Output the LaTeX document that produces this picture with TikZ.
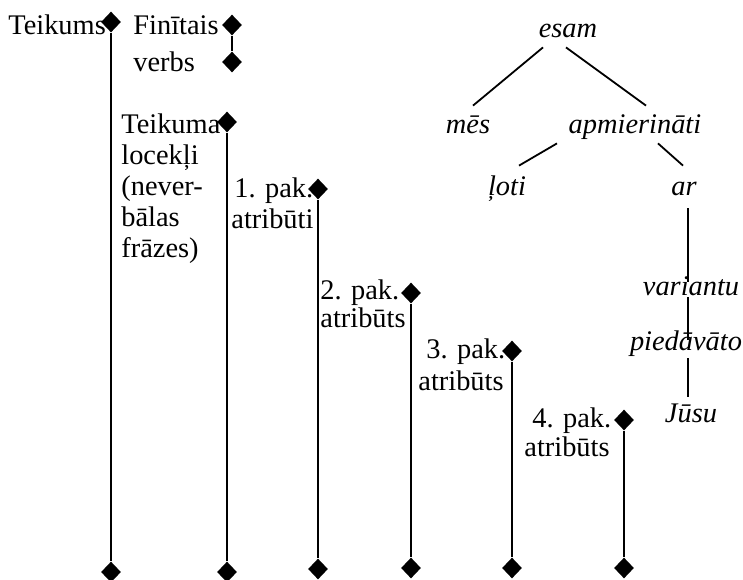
\documentclass[tikz,border=0pt]{standalone}
\usepackage{fontspec}
\setmainfont{Liberation Serif}
\usetikzlibrary{shapes.geometric,calc}
\begin{document}
\begin{tikzpicture}[x=0.5pt,y=-0.5pt,
 dia/.style={diamond,fill=black,draw=none,inner sep=0pt,minimum width=10pt,minimum height=10.5pt},
 lbl/.style={anchor=base west,inner sep=0pt,font=\fontsize{14.2}{16}\selectfont},
 wrd/.style={anchor=base,inner sep=0pt,text height=7pt,text depth=0pt,font=\fontsize{14.2}{16}\selectfont\itshape},
 stem/.style={line width=1.1pt},
 edge/.style={line width=0.9pt}]
\useasboundingbox (0,0) rectangle (743,579);

% diamonds
\node[dia] (t0) at (111,22) {};
\node[dia] (b0) at (111,572) {};
\node[dia] (f1) at (232,25) {};
\node[dia] (f2) at (232,62) {};
\node[dia] (t1) at (227,122) {};
\node[dia] (b1) at (227,572) {};
\node[dia] (t2) at (318,189) {};
\node[dia] (b2) at (318,569) {};
\node[dia] (t3) at (411,293) {};
\node[dia] (b3) at (411,568) {};
\node[dia] (t4) at (512,351) {};
\node[dia] (b4) at (512,568) {};
\node[dia] (t5) at (624,420) {};
\node[dia] (b5) at (624,568) {};

\draw[stem] (t0) -- (b0);
\draw[stem] (f1) -- (f2);
\draw[stem] (t1) -- (b1);
\draw[stem] (t2) -- (b2);
\draw[stem] (t3) -- (b3);
\draw[stem] (t4) -- (b4);
\draw[stem] (t5) -- (b5);

% labels
\node[lbl] (l0) at (8,34) {Teikums};
\node[lbl] (lf1) at (133,34) {Finītais};
\node[lbl] (lf2) at (133,71) {verbs};
\node[lbl] (la1) at (121,133) {Teikuma};
\node[lbl] (la2) at (121,164) {locekļi};
\node[lbl] (la3) at (121,195) {(never-};
\node[lbl] (la4) at (121,226) {bālas};
\node[lbl] (la5) at (121,257) {frāzes)};
\node[lbl] (lb1) at (234,197) {1. pak.};
\node[lbl] (lb2) at (231,228) {atribūti};
\node[lbl] (lc1) at (320,299) {2. pak.};
\node[lbl] (lc2) at (320,327) {atribūts};
\node[lbl] (ld1) at (426,358) {3. pak.};
\node[lbl] (ld2) at (418,390) {atribūts};
\node[lbl] (le1) at (532,427) {4. pak.};
\node[lbl] (le2) at (524,456) {atribūts};

% tree
\node[wrd] (esam) at (568,37) {esam};
\node[wrd] (mes) at (468,133) {mēs};
\node[wrd] (apm) at (635,133) {apmierināti};
\node[wrd] (loti) at (507,195) {ļoti};
\node[wrd] (ar) at (684,195) {ar};
\node[wrd] (var) at (691,295) {variantu};
\node[wrd] (pie) at (686,350) {piedāvāto};
\node[wrd] (jus) at (691,422) {Jūsu};

\draw[edge] ($(esam.south)+(-25,10)$) -- ($(mes.north)+(5,-13)$);
\draw[edge] ($(esam.south)+(-2,10)$) -- ($(apm.north)+(11,-13)$);
\draw[edge] ($(apm.south)+(-78,10)$) -- ($(loti.north)+(12,-15)$);
\draw[edge] ($(apm.south)+(23,10)$) -- ($(ar.north)+(-1,-15)$);
\draw[edge] ($(ar.south)+(4,13)$) -- ($(var.north)+(-3,1)$);
\draw[edge] ($(var.south)+(-3,2)$) -- ($(pie.north)+(2,4)$);
\draw[edge] ($(pie.south)+(2,8)$) -- ($(jus.north)+(-3,-11)$);
\end{tikzpicture}
\end{document}
